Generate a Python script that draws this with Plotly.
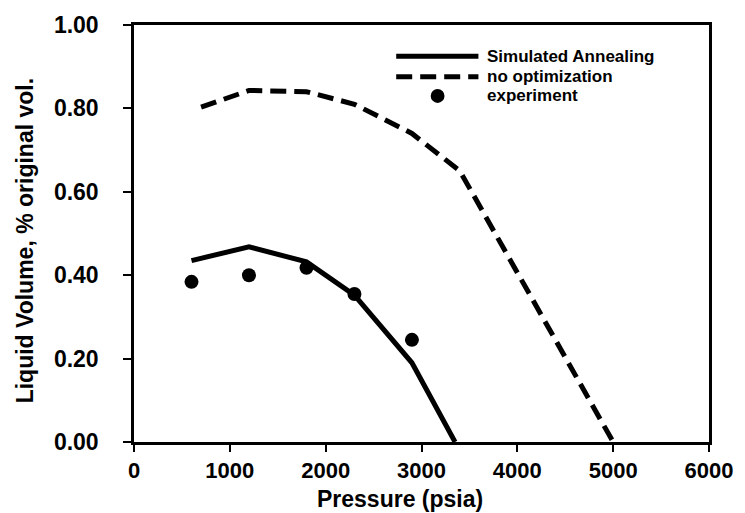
import plotly.graph_objects as go

# Data
sa_pressure = [600, 1200, 1800, 2300, 2900, 3350]
sa_volume = [0.435, 0.468, 0.432, 0.352, 0.190, 0.0]

noopt_pressure = [700, 1200, 1800, 2300, 2900, 3400, 5000]
noopt_volume = [0.803, 0.843, 0.840, 0.810, 0.740, 0.650, 0.0]

exp_pressure = [600, 1200, 1800, 2300, 2900]
exp_volume = [0.384, 0.400, 0.418, 0.355, 0.245]

legend_labels = ["Simulated Annealing", "no optimization", "experiment"]

x_ticks = [0, 1000, 2000, 3000, 4000, 5000, 6000]
y_ticks = [0.0, 0.2, 0.4, 0.6, 0.8, 1.0]
y_ticktext = ["%.2f" % v for v in y_ticks]

FONT = "Liberation Sans, Arial, sans-serif"
DASH = "16px,8px"

fig = go.Figure()
fig.add_trace(go.Scatter(x=sa_pressure, y=sa_volume, mode="lines",
                         line=dict(color="black", width=5), name=legend_labels[0],
                         showlegend=False))
fig.add_trace(go.Scatter(x=noopt_pressure, y=noopt_volume, mode="lines",
                         line=dict(color="black", width=5, dash=DASH), name=legend_labels[1],
                         showlegend=False))
fig.add_trace(go.Scatter(x=exp_pressure, y=exp_volume, mode="markers",
                         marker=dict(color="black", size=14), name=legend_labels[2],
                         showlegend=False))

# Custom legend (paper coordinates)
rows_y = [0.925, 0.876, 0.830]
x0, x1, xdot, xtxt = 0.456, 0.599, 0.528, 0.611
fig.add_shape(type="line", xref="paper", yref="paper", x0=x0, x1=x1, y0=rows_y[0], y1=rows_y[0],
              line=dict(color="black", width=5))
fig.add_shape(type="line", xref="paper", yref="paper", x0=x0, x1=x1, y0=rows_y[1], y1=rows_y[1],
              line=dict(color="black", width=5, dash=DASH))
r = 7 / 583
ry = 7 / 417
fig.add_shape(type="circle", xref="paper", yref="paper", x0=xdot - r, x1=xdot + r,
              y0=rows_y[2] - ry, y1=rows_y[2] + ry, fillcolor="black", line=dict(color="black", width=0))
for lab, yy in zip(legend_labels, rows_y):
    fig.add_annotation(text="<b>%s</b>" % lab, xref="paper", yref="paper", x=xtxt, y=yy,
                       xanchor="left", yanchor="middle", showarrow=False,
                       font=dict(family=FONT, size=17, color="black"))

# Axis titles as annotations (placed as in the reference)
fig.add_annotation(text="<b>Pressure (psia)</b>", xref="paper", yref="paper",
                   x=0.463, y=-0.1, xanchor="center", yanchor="top", showarrow=False,
                   font=dict(family=FONT, size=23, color="black"))
fig.add_annotation(text="<b>Liquid Volume, % original vol.</b>", xref="paper", yref="paper",
                   x=-0.189, y=0.482, xanchor="center", yanchor="middle", showarrow=False,
                   textangle=-90, font=dict(family=FONT, size=23, color="black"))

fig.update_layout(
    width=745, height=513,
    margin=dict(l=134, r=28, t=25, b=71),
    paper_bgcolor="white", plot_bgcolor="white",
    font=dict(family=FONT, color="black"),
    showlegend=False,
)
fig.update_xaxes(range=[0, 6000], tickvals=x_ticks, ticktext=["<b>%d</b>" % v for v in x_ticks],
                 showgrid=False, zeroline=False, showline=True, mirror=True,
                 linecolor="black", linewidth=2.5, ticks="outside", ticklen=7, tickwidth=1.5,
                 tickcolor="black", tickfont=dict(family=FONT, size=22, color="black"))
fig.update_yaxes(range=[0, 1.0], tickvals=y_ticks, ticktext=["<b>%s</b>" % t for t in y_ticktext],
                 showgrid=False, zeroline=False, showline=True, mirror=True,
                 linecolor="black", linewidth=2.5, ticks="outside", ticklen=8, tickwidth=1.5,
                 tickcolor="black", tickfont=dict(family=FONT, size=23, color="black"),
                 ticklabelstandoff=20)

fig.write_html("out.html")
